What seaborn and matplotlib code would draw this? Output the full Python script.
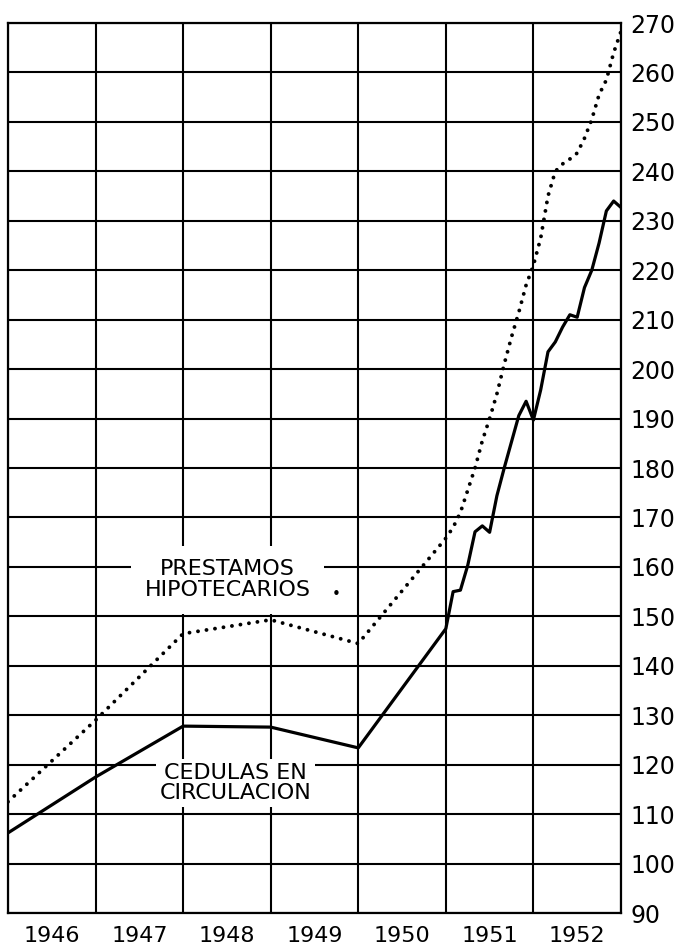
import matplotlib
matplotlib.use("Agg")
import matplotlib.pyplot as plt
import seaborn as sns
import pandas as pd

# Cierres anuales (posición = inicio del año en el eje)
fechas_anuales = [1946, 1947, 1948, 1949, 1950, 1951]
cedulas_anual = [106.2, 117.5, 127.8, 127.6, 123.4, 147.5]
prestamos_anual = [112.5, 129.0, 146.5, 149.3, 144.5, 165.8]

# Datos mensuales 1951-1952
meses = list(range(1, 25))
cedulas_mensual = [155.0, 155.3, 160.3, 167.1, 168.3, 167.0, 174.4, 180.0, 185.3, 190.6, 193.5, 189.7,
                   195.8, 203.5, 205.5, 208.5, 211.0, 210.5, 216.5, 220.0, 225.5, 232.0, 234.0, 232.7]
prestamos_mensual = [168.0, 171.0, 175.5, 180.0, 185.5, 190.0, 195.0, 201.0, 206.5, 211.5, 217.0, 221.0,
                     226.5, 235.0, 240.0, 241.5, 242.5, 243.7, 246.7, 250.5, 255.5, 258.5, 264.0, 268.3]

anios = ["1946", "1947", "1948", "1949", "1950", "1951", "1952"]
escala_y = list(range(90, 271, 10))


def main():
    sns.set_theme(style="white")
    plt.rcParams["font.family"] = ["DejaVu Sans"]
    plt.rcParams["text.color"] = "black"
    plt.rcParams["xtick.color"] = "black"
    plt.rcParams["ytick.color"] = "black"

    fechas = fechas_anuales + [1951 + m / 12 for m in meses]
    df_ced = pd.DataFrame({"fecha": fechas, "valor": cedulas_anual + cedulas_mensual})
    df_pre = pd.DataFrame({"fecha": fechas, "valor": prestamos_anual + prestamos_mensual})

    fig = plt.figure(figsize=(6.82, 9.48), dpi=100)
    ax = fig.add_axes([0.0117, 0.0369, 0.8988, 0.9388])

    sns.lineplot(data=df_ced, x="fecha", y="valor", color="black", lw=2.3, ax=ax, zorder=3)
    sns.lineplot(data=df_pre, x="fecha", y="valor", color="black", lw=2.8,
                 linestyle=(0, (0.01, 2.2)), dash_capstyle="round", ax=ax, zorder=3)

    ax.set_xlim(1946, 1953)
    ax.set_ylim(90, 270)

    # Rejilla: líneas verticales en los cambios de año, horizontales cada 10
    ax.set_xticks([1946.5 + i for i in range(len(anios))])
    ax.set_xticklabels(anios, fontsize=16)
    ax.set_xticks(range(1946, 1954), minor=True)
    ax.set_yticks(escala_y)
    ax.set_yticklabels([str(v) for v in escala_y], fontsize=17)
    ax.yaxis.tick_right()
    ax.tick_params(axis="both", which="both", length=0)
    ax.tick_params(axis="x", pad=9)
    ax.tick_params(axis="y", pad=7)
    ax.grid(False)
    ax.grid(axis="x", which="minor", color="black", lw=1.5)
    ax.grid(axis="y", which="major", color="black", lw=1.5)
    for s in ax.spines.values():
        s.set_color("black")
        s.set_linewidth(1.6)
    ax.set_xlabel("")
    ax.set_ylabel("")

    caja = dict(facecolor="white", edgecolor="none", boxstyle="square,pad=0.6")
    ax.text(1948.51, 157.4, "PRESTAMOS\nHIPOTECARIOS", ha="center", va="center",
            fontsize=16, linespacing=1.05, bbox=caja, zorder=4)
    ax.text(1949.75, 154.5, "•", ha="center", va="center", fontsize=11, zorder=4)
    ax.text(1948.60, 116.3, "CEDULAS EN\nCIRCULACION", ha="center", va="center",
            fontsize=16, linespacing=1.05,
            bbox=dict(facecolor="white", edgecolor="none", boxstyle="square,pad=0.15"), zorder=4)

    fig.savefig("out.png", dpi=100)
    plt.close(fig)


if __name__ == "__main__":
    main()
